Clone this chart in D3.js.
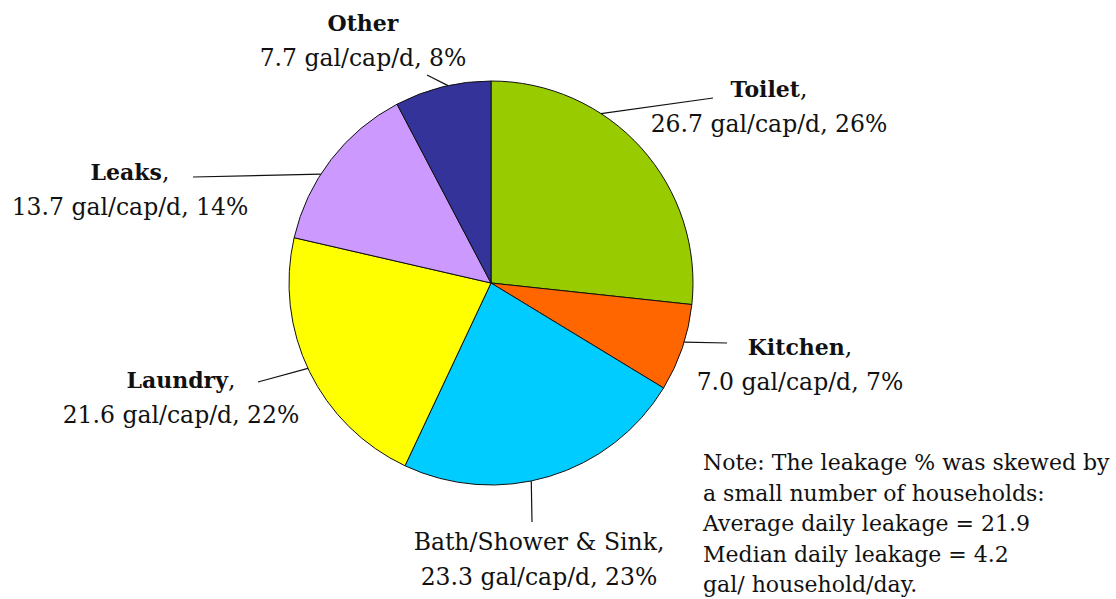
<!DOCTYPE html>
<html>
<head>
<meta charset="utf-8">
<script src="https://cdn.jsdelivr.net/npm/d3@7"></script>
<style>
  html, body { margin: 0; padding: 0; background: #fff; }
  svg { display: block; }
</style>
</head>
<body>
<svg id="chart" width="1116" height="599"></svg>
<script>
// ---- data ----
const categories = ["Toilet", "Kitchen", "Bath/Shower & Sink", "Laundry", "Leaks", "Other"];
const values = [26.7, 7.0, 23.3, 21.6, 13.7, 7.7];
const percents = [26, 7, 23, 22, 14, 8];
const colors = ["#99CC00", "#FF6600", "#00CCFF", "#FFFF00", "#CC99FF", "#333399"];
const noteLines = [
  "Note: The leakage % was skewed by",
  "a small number of households:",
  "Average daily leakage = 21.9",
  "Median daily leakage = 4.2",
  "gal/ household/day."
];

// ---- layout (positions only) ----
const cx = 491, cy = 283, R = 202;
const FONT = "DejaVu Serif";
const labelLayout = {
  "Toilet":             { ang: 33,    end: [713, 98],  tx: 769, ty: 97,  boldName: true,  comma: true },
  "Kitchen":            { ang: 107,   end: [727, 343], tx: 800, ty: 355, boldName: true,  comma: true },
  "Bath/Shower & Sink": { ang: 168.5, end: [532, 522], tx: 539, ty: 550, boldName: false, comma: true },
  "Laundry":            { ang: 245,   end: [258, 382], tx: 181, ty: 388, boldName: true,  comma: true },
  "Leaks":              { ang: 302.6, end: [193, 177], tx: 130, ty: 180, boldName: true,  comma: true },
  "Other":              { ang: 347.7, end: [427, 75],  tx: 363, ty: 31,  boldName: true,  comma: false }
};

const svg = d3.select("#chart");
const data = categories.map((c, i) => ({ name: c, value: values[i], pct: percents[i], color: colors[i] }));

const pie = d3.pie().value(d => d.value).sort(null).startAngle(0).endAngle(2 * Math.PI);
const arc = d3.arc().innerRadius(0).outerRadius(R);

const g = svg.append("g").attr("transform", `translate(${cx},${cy})`);
g.selectAll("path.slice")
  .data(pie(data))
  .join("path")
  .attr("class", "slice")
  .attr("d", arc)
  .attr("fill", d => d.data.color)
  .attr("stroke", "#111")
  .attr("stroke-width", 1);

const rim = deg => {
  const a = deg * Math.PI / 180;
  return [cx + R * Math.sin(a), cy - R * Math.cos(a)];
};
data.forEach(d => {
  const L = labelLayout[d.name];
  const p = rim(L.ang);
  svg.append("line")
    .attr("x1", p[0]).attr("y1", p[1])
    .attr("x2", L.end[0]).attr("y2", L.end[1])
    .attr("stroke", "#111").attr("stroke-width", 1.2);
});

const NAME_FS = 22, PLAIN_FS = 23.5, VAL_FS = 23.5, LH = 35;
data.forEach(d => {
  const L = labelLayout[d.name];
  const t1 = svg.append("text")
    .attr("x", L.tx).attr("y", L.ty)
    .attr("text-anchor", "middle")
    .attr("font-family", FONT)
    .attr("fill", "#111");
  t1.append("tspan")
    .attr("font-weight", L.boldName ? "bold" : "normal")
    .attr("font-size", L.boldName ? NAME_FS : PLAIN_FS)
    .text(d.name);
  if (L.comma) t1.append("tspan").attr("font-size", PLAIN_FS).text(",");
  svg.append("text")
    .attr("x", L.tx).attr("y", L.ty + LH)
    .attr("text-anchor", "middle")
    .attr("font-family", FONT)
    .attr("fill", "#111")
    .attr("font-size", VAL_FS)
    .text(`${d.value.toFixed(1)} gal/cap/d, ${d.pct}%`);
});

svg.append("g").selectAll("text")
  .data(noteLines)
  .join("text")
  .attr("x", 703)
  .attr("y", (d, i) => 470 + i * 30.5)
  .attr("font-family", FONT)
  .attr("fill", "#111")
  .attr("font-size", 22)
  .text(d => d);
</script>
</body>
</html>
